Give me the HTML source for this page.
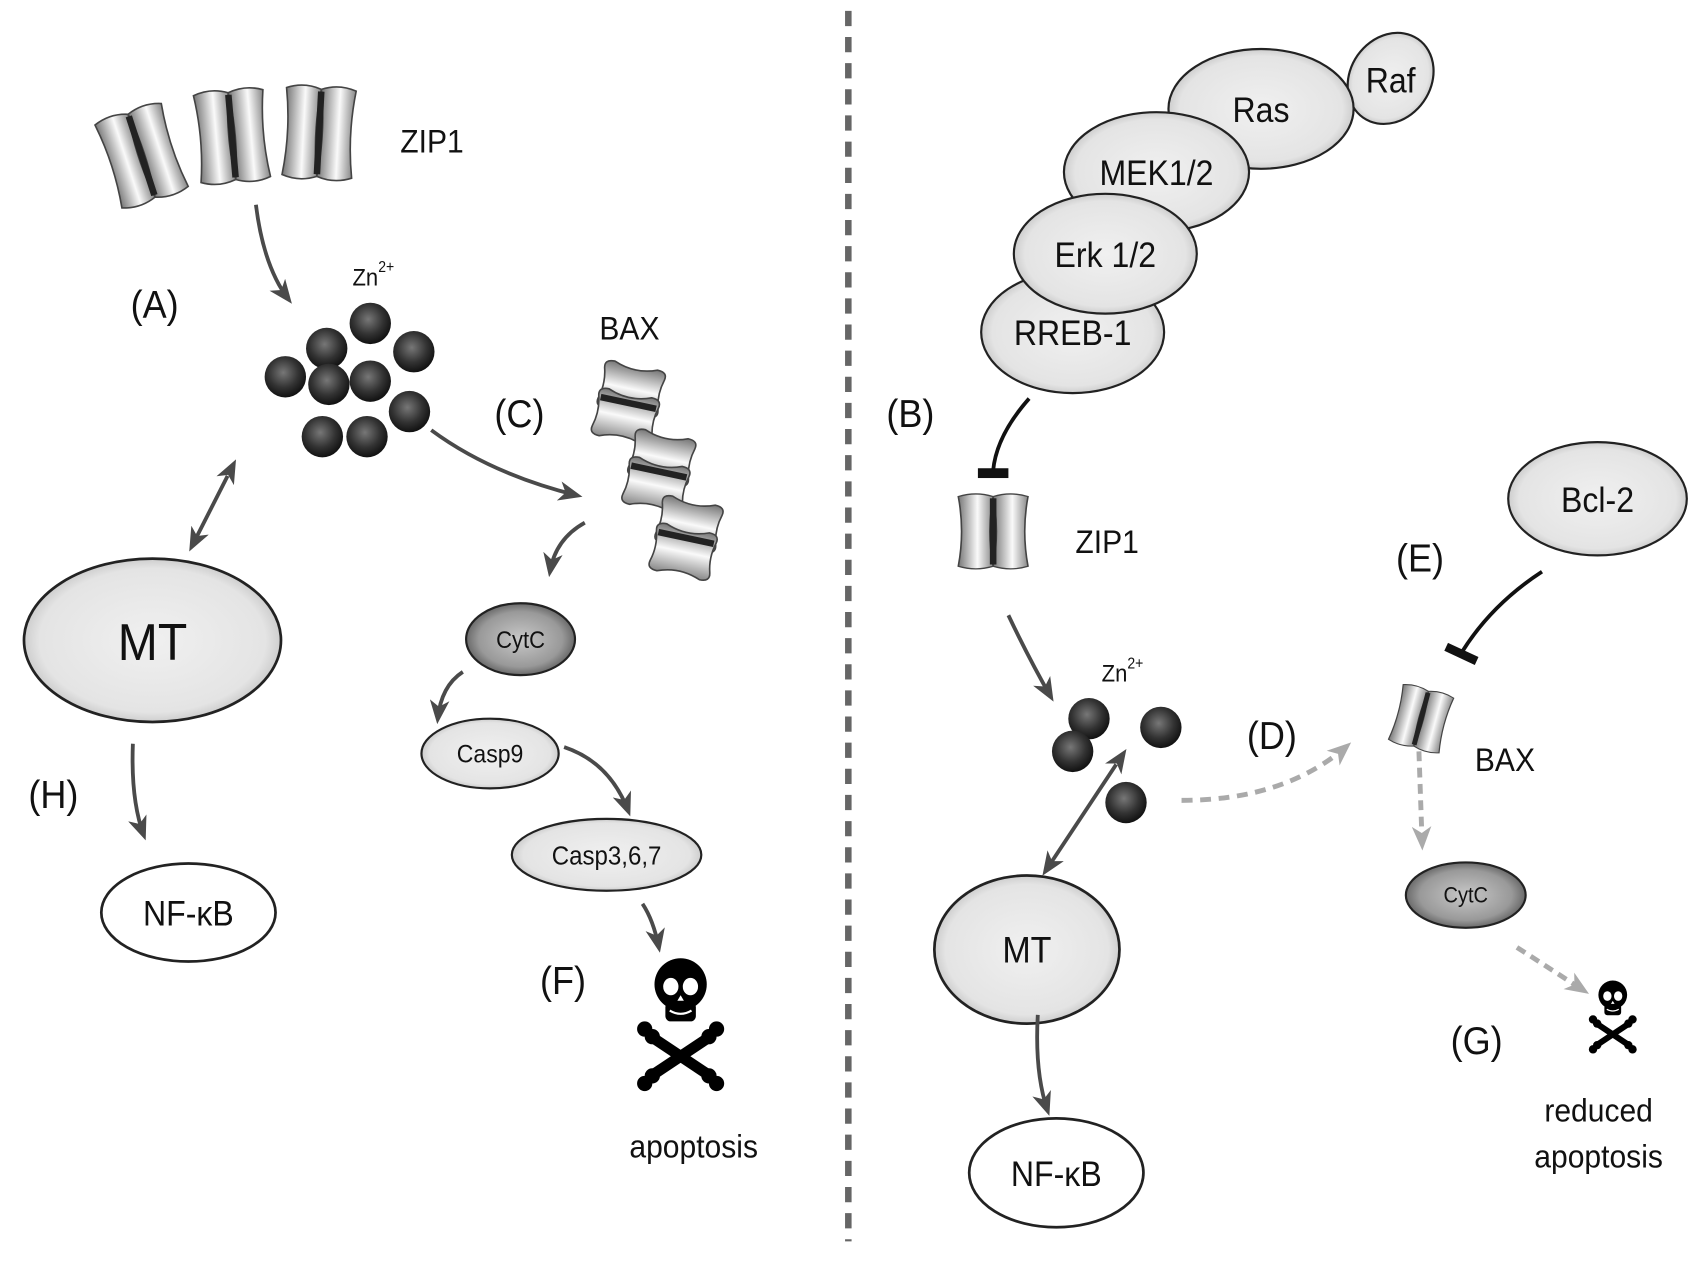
<!DOCTYPE html>
<html><head><meta charset="utf-8"><style>
html,body{margin:0;padding:0;background:#fff;}
svg{display:block;}
text{font-family:"Liberation Sans",sans-serif;fill:#111;transform-box:fill-box;transform-origin:center;transform:scaleX(0.92);}
</style></head><body>
<svg width="1701" height="1261" viewBox="0 0 1562 1158" xmlns="http://www.w3.org/2000/svg">
<defs>
<radialGradient id="ball" cx="45%" cy="40%" r="60%"><stop offset="0" stop-color="#777"/><stop offset="0.6" stop-color="#333"/><stop offset="1" stop-color="#111"/></radialGradient>
<radialGradient id="lg" cx="50%" cy="50%" r="55%"><stop offset="0" stop-color="#f0f0f0"/><stop offset="0.8" stop-color="#e4e4e4"/><stop offset="1" stop-color="#bbb"/></radialGradient>
<radialGradient id="dk" cx="50%" cy="50%" r="55%"><stop offset="0" stop-color="#c8c8c8"/><stop offset="0.7" stop-color="#999"/><stop offset="1" stop-color="#555"/></radialGradient>
<linearGradient id="chan" x1="0" x2="1" y1="0" y2="0"><stop offset="0" stop-color="#777"/><stop offset="0.55" stop-color="#fafafa"/><stop offset="1" stop-color="#888"/></linearGradient>
<linearGradient id="chanv" x1="0" x2="0" y1="0" y2="1"><stop offset="0" stop-color="#777"/><stop offset="0.5" stop-color="#fafafa"/><stop offset="1" stop-color="#888"/></linearGradient>
<marker id="ah" markerWidth="22" markerHeight="18" refX="17" refY="9" orient="auto" markerUnits="userSpaceOnUse"><path d="M0,0 L22,9 L0,18 L6,9 z" fill="#4a4a4a"/></marker>
<marker id="ahs" markerWidth="22" markerHeight="18" refX="5" refY="9" orient="auto-start-reverse" markerUnits="userSpaceOnUse"><path d="M0,0 L22,9 L0,18 L6,9 z" fill="#4a4a4a"/></marker>
<marker id="ahg" markerWidth="22" markerHeight="18" refX="17" refY="9" orient="auto" markerUnits="userSpaceOnUse"><path d="M0,0 L22,9 L0,18 L6,9 z" fill="#aaa"/></marker>
<g id="sub"><path d="M-16,-40 Q0,-46 16,-40 Q10,0 16,40 Q0,46 -16,40 Q-10,0 -16,-40 z" fill="url(#chan)" stroke="#444" stroke-width="1.5"/></g>
<g id="pair"><use href="#sub" x="-16"/><use href="#sub" x="16"/><rect x="-3" y="-38" width="6" height="76" fill="#222"/></g>
<g id="bsub"><path d="M-28,-14 Q-30,-22 -20,-22 Q0,-14 20,-22 Q30,-22 28,-14 Q24,0 28,14 Q30,22 20,22 Q0,14 -20,22 Q-30,22 -28,14 Q-24,0 -28,-14 z" fill="url(#chanv)" stroke="#444" stroke-width="1.5"/></g>
<g id="bpair"><use href="#bsub" y="-13"/><use href="#bsub" y="13"/><rect x="-26" y="-3" width="52" height="6" fill="#222"/></g>
<g id="skull"><ellipse cx="0" cy="-8" rx="24" ry="24" fill="#000"/><rect x="-14" y="8" width="28" height="18" rx="5" fill="#000"/><ellipse cx="-9" cy="-6" rx="7" ry="8" fill="#fff"/><ellipse cx="9" cy="-6" rx="7" ry="8" fill="#fff"/><path d="M-3,7 L0,2 L3,7z" fill="#fff"/><path d="M-10,16 Q0,22 10,16" stroke="#fff" stroke-width="2" fill="none"/>
<line x1="-30" y1="38" x2="30" y2="78" stroke="#000" stroke-width="10"/><line x1="30" y1="38" x2="-30" y2="78" stroke="#000" stroke-width="10"/>
<circle cx="-33" cy="33" r="7"/><circle cx="-26" cy="40" r="7"/><circle cx="33" cy="33" r="7"/><circle cx="26" cy="40" r="7"/><circle cx="-33" cy="83" r="7"/><circle cx="-26" cy="76" r="7"/><circle cx="33" cy="83" r="7"/><circle cx="26" cy="76" r="7"/></g>
</defs>

<line x1="779" y1="10" x2="779" y2="1140" stroke="#666" stroke-width="6" stroke-dasharray="14 10"/>

<!-- LEFT -->
<g transform="translate(130,143) rotate(-18)"><use href="#pair"/></g>
<g transform="translate(213,125) rotate(-5)"><use href="#pair"/></g>
<g transform="translate(293,122) rotate(3)"><use href="#pair"/></g>
<text x="365" y="140" font-size="30">ZIP1</text>
<path d="M235,188 Q242,245 265,275" stroke="#4a4a4a" stroke-width="3.5" fill="none" marker-end="url(#ah)"/>
<text x="118" y="292" font-size="36">(A)</text>
<text x="322" y="262" font-size="22">Zn<tspan font-size="14" dy="-12">2+</tspan></text>
<g fill="url(#ball)">
<circle cx="340" cy="297" r="19"/><circle cx="300" cy="320" r="19"/><circle cx="380" cy="323" r="19"/><circle cx="262" cy="346" r="19"/><circle cx="302" cy="353" r="19"/><circle cx="340" cy="350" r="19"/><circle cx="376" cy="378" r="19"/><circle cx="296" cy="401" r="19"/><circle cx="337" cy="401" r="19"/></g>
<path d="M396,395 Q450,435 530,455" stroke="#4a4a4a" stroke-width="3.5" fill="none" marker-end="url(#ah)"/>
<text x="452" y="392" font-size="36">(C)</text>
<text x="548" y="312" font-size="30">BAX</text>
<g transform="translate(577,370) rotate(12)"><use href="#bpair"/></g>
<g transform="translate(605,433) rotate(12)"><use href="#bpair"/></g>
<g transform="translate(630,494) rotate(12)"><use href="#bpair"/></g>
<path d="M537,480 Q510,495 505,525" stroke="#4a4a4a" stroke-width="3.5" fill="none" marker-end="url(#ah)"/>
<ellipse cx="478" cy="587" rx="50" ry="33" fill="url(#dk)" stroke="#222" stroke-width="2"/>
<text x="478" y="595" font-size="22" text-anchor="middle">CytC</text>
<path d="M425,617 Q405,630 402,660" stroke="#4a4a4a" stroke-width="3.5" fill="none" marker-end="url(#ah)"/>
<ellipse cx="450" cy="692" rx="63" ry="32" fill="url(#lg)" stroke="#222" stroke-width="2"/>
<text x="450" y="700" font-size="23" text-anchor="middle">Casp9</text>
<path d="M518,686 Q560,700 577,745" stroke="#4a4a4a" stroke-width="3.5" fill="none" marker-end="url(#ah)"/>
<ellipse cx="557" cy="785" rx="87" ry="33" fill="url(#lg)" stroke="#222" stroke-width="2"/>
<text x="557" y="794" font-size="24" text-anchor="middle">Casp3,6,7</text>
<path d="M590,830 Q600,845 605,870" stroke="#4a4a4a" stroke-width="3.5" fill="none" marker-end="url(#ah)"/>
<text x="494" y="913" font-size="36">(F)</text>
<use href="#skull" transform="translate(625,912)"/>
<text x="637" y="1063" font-size="30" text-anchor="middle">apoptosis</text>
<line x1="209" y1="437" x2="176" y2="502" stroke="#4a4a4a" stroke-width="3.5" marker-start="url(#ahs)" marker-end="url(#ah)"/>
<ellipse cx="140" cy="588" rx="118" ry="75" fill="url(#lg)" stroke="#222" stroke-width="2.5"/>
<text x="140" y="606" font-size="48" text-anchor="middle">MT</text>
<path d="M122,683 Q120,735 132,767" stroke="#4a4a4a" stroke-width="3.5" fill="none" marker-end="url(#ah)"/>
<text x="24" y="742" font-size="36">(H)</text>
<ellipse cx="173" cy="838" rx="80" ry="45" fill="#fff" stroke="#222" stroke-width="2.5"/>
<text x="173" y="850" font-size="32" text-anchor="middle">NF-κB</text>

<!-- RIGHT -->
<ellipse cx="1277" cy="72" rx="37" ry="44" transform="rotate(35 1277 72)" fill="url(#lg)" stroke="#222" stroke-width="2"/>
<text x="1277" y="85" font-size="32" text-anchor="middle">Raf</text>
<ellipse cx="1158" cy="100" rx="85" ry="55" fill="url(#lg)" stroke="#222" stroke-width="2"/>
<text x="1158" y="112" font-size="32" text-anchor="middle">Ras</text>
<ellipse cx="1062" cy="158" rx="85" ry="55" fill="url(#lg)" stroke="#222" stroke-width="2"/>
<text x="1062" y="170" font-size="32" text-anchor="middle">MEK1/2</text>
<ellipse cx="985" cy="305" rx="84" ry="56" fill="url(#lg)" stroke="#222" stroke-width="2"/>
<text x="985" y="317" font-size="32" text-anchor="middle">RREB-1</text>
<ellipse cx="1015" cy="233" rx="84" ry="55" fill="url(#lg)" stroke="#222" stroke-width="2"/>
<text x="1015" y="245" font-size="32" text-anchor="middle">Erk 1/2</text>
<text x="812" y="392" font-size="36">(B)</text>
<path d="M945,366 Q915,400 912,432" stroke="#111" stroke-width="3.5" fill="none"/>
<rect x="898" y="430" width="28" height="9" fill="#111"/>
<g transform="translate(912,488)"><use href="#pair" transform="scale(1,0.8)"/></g>
<text x="985" y="508" font-size="30">ZIP1</text>
<path d="M926,565 Q945,605 965,640" stroke="#4a4a4a" stroke-width="3.5" fill="none" marker-end="url(#ah)"/>
<text x="1010" y="626" font-size="22">Zn<tspan font-size="14" dy="-12">2+</tspan></text>
<g fill="url(#ball)"><circle cx="1000" cy="660" r="19"/><circle cx="1066" cy="668" r="19"/><circle cx="985" cy="690" r="19"/><circle cx="1034" cy="737" r="19"/></g>
<text x="1143" y="688" font-size="36">(D)</text>
<path d="M1085,735 Q1180,735 1237,685" stroke="#aaa" stroke-width="4.5" stroke-dasharray="10 7" fill="none" marker-end="url(#ahg)"/>
<line x1="1025" y1="702" x2="960" y2="800" stroke="#4a4a4a" stroke-width="3.5" marker-start="url(#ahs)" marker-end="url(#ah)"/>
<ellipse cx="943" cy="872" rx="85" ry="68" fill="url(#lg)" stroke="#222" stroke-width="2.5"/>
<text x="943" y="884" font-size="34" text-anchor="middle">MT</text>
<path d="M953,932 Q950,985 962,1020" stroke="#4a4a4a" stroke-width="3.5" fill="none" marker-end="url(#ah)"/>
<ellipse cx="970" cy="1077" rx="80" ry="50" fill="#fff" stroke="#222" stroke-width="2.5"/>
<text x="970" y="1089" font-size="32" text-anchor="middle">NF-κB</text>

<ellipse cx="1467" cy="458" rx="82" ry="52" fill="url(#lg)" stroke="#222" stroke-width="2"/>
<text x="1467" y="470" font-size="32" text-anchor="middle">Bcl-2</text>
<text x="1280" y="525" font-size="36">(E)</text>
<path d="M1416,525 Q1370,555 1343,598" stroke="#111" stroke-width="3.5" fill="none"/>
<line x1="1328" y1="594" x2="1356" y2="607" stroke="#111" stroke-width="8"/>
<g transform="translate(1305,660) rotate(15) scale(0.75,0.65)"><use href="#pair"/></g>
<text x="1352" y="708" font-size="30">BAX</text>
<path d="M1303,690 L1306,776" stroke="#aaa" stroke-width="4.5" stroke-dasharray="9 6" fill="none" marker-end="url(#ahg)"/>
<ellipse cx="1346" cy="822" rx="55" ry="30" fill="url(#dk)" stroke="#222" stroke-width="2"/>
<text x="1346" y="829" font-size="20" text-anchor="middle">CytC</text>
<path d="M1393,870 L1455,910" stroke="#aaa" stroke-width="4.5" stroke-dasharray="9 6" fill="none" marker-end="url(#ahg)"/>
<use href="#skull" transform="translate(1481,918) scale(0.55)"/>
<text x="1330" y="968" font-size="36">(G)</text>
<text x="1468" y="1030" font-size="30" text-anchor="middle">reduced</text>
<text x="1468" y="1072" font-size="30" text-anchor="middle">apoptosis</text>
</svg>
</body></html>
